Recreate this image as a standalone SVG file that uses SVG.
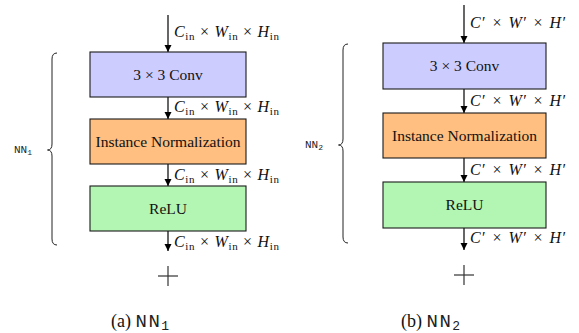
<svg xmlns="http://www.w3.org/2000/svg" width="579" height="333" viewBox="0 0 579 333">
<style>
.box{stroke:#1a1a1a;stroke-width:1.1}
.conv{fill:#ccccff}
.norm{fill:#ffbf80}
.relu{fill:#b3f5b3}
.bt{font-family:"Liberation Serif",serif;font-size:15.5px;fill:#111;text-anchor:middle}
.lbl{font-family:"Liberation Serif",serif;font-size:16px;fill:#111}
.it{font-style:italic}
.sub{font-size:11px}
.edge{stroke:#000;stroke-width:1.2;fill:none}
.brace{stroke:#222;stroke-width:1;fill:none}
.tt{font-family:"Liberation Mono",monospace;fill:#222}
.cap{font-family:"Liberation Serif",serif;font-size:18px;fill:#111}
.plus{stroke:#333;stroke-width:1.2}
</style>
<defs>
<marker id="ah" markerWidth="8" markerHeight="8" refX="7" refY="4" orient="auto" markerUnits="userSpaceOnUse">
<path d="M0,0.5 L7,4 L0,7.5 Z" fill="#000"/>
</marker>
</defs>

<g id="connectors">
<line class="edge" x1="168" y1="15" x2="168" y2="52" marker-end="url(#ah)"/>
<line class="edge" x1="168" y1="97" x2="168" y2="119" marker-end="url(#ah)"/>
<line class="edge" x1="168" y1="164" x2="168" y2="186" marker-end="url(#ah)"/>
<line class="edge" x1="168" y1="231" x2="168" y2="251" marker-end="url(#ah)"/>
<line class="edge" x1="464" y1="5" x2="464" y2="43" marker-end="url(#ah)"/>
<line class="edge" x1="464" y1="89" x2="464" y2="113" marker-end="url(#ah)"/>
<line class="edge" x1="464" y1="158" x2="464" y2="182" marker-end="url(#ah)"/>
<line class="edge" x1="464" y1="228" x2="464" y2="250" marker-end="url(#ah)"/>
</g>

<g id="labels-a">
<text class="lbl" x="174" y="37" textLength="105" lengthAdjust="spacing"><tspan class="it">C</tspan><tspan class="sub" dy="3">in</tspan><tspan dy="-3"> × </tspan><tspan class="it">W</tspan><tspan class="sub" dy="3">in</tspan><tspan dy="-3"> × </tspan><tspan class="it">H</tspan><tspan class="sub" dy="3">in</tspan></text>
<text class="lbl" x="174" y="112" textLength="105" lengthAdjust="spacing"><tspan class="it">C</tspan><tspan class="sub" dy="3">in</tspan><tspan dy="-3"> × </tspan><tspan class="it">W</tspan><tspan class="sub" dy="3">in</tspan><tspan dy="-3"> × </tspan><tspan class="it">H</tspan><tspan class="sub" dy="3">in</tspan></text>
<text class="lbl" x="174" y="180" textLength="105" lengthAdjust="spacing"><tspan class="it">C</tspan><tspan class="sub" dy="3">in</tspan><tspan dy="-3"> × </tspan><tspan class="it">W</tspan><tspan class="sub" dy="3">in</tspan><tspan dy="-3"> × </tspan><tspan class="it">H</tspan><tspan class="sub" dy="3">in</tspan></text>
<text class="lbl" x="174" y="247" textLength="105" lengthAdjust="spacing"><tspan class="it">C</tspan><tspan class="sub" dy="3">in</tspan><tspan dy="-3"> × </tspan><tspan class="it">W</tspan><tspan class="sub" dy="3">in</tspan><tspan dy="-3"> × </tspan><tspan class="it">H</tspan><tspan class="sub" dy="3">in</tspan></text>
</g>

<g id="labels-b">
<text class="lbl" x="470" y="28" font-size="17" textLength="96" lengthAdjust="spacing"><tspan class="it">C</tspan>′ × <tspan class="it">W</tspan>′ × <tspan class="it">H</tspan>′</text>
<text class="lbl" x="470" y="106" font-size="17" textLength="96" lengthAdjust="spacing"><tspan class="it">C</tspan>′ × <tspan class="it">W</tspan>′ × <tspan class="it">H</tspan>′</text>
<text class="lbl" x="470" y="175" font-size="17" textLength="96" lengthAdjust="spacing"><tspan class="it">C</tspan>′ × <tspan class="it">W</tspan>′ × <tspan class="it">H</tspan>′</text>
<text class="lbl" x="470" y="243" font-size="17" textLength="96" lengthAdjust="spacing"><tspan class="it">C</tspan>′ × <tspan class="it">W</tspan>′ × <tspan class="it">H</tspan>′</text>
</g>

<g id="a-conv"><rect class="box conv" x="90" y="52" width="156" height="45"/><text class="bt" x="168" y="80">3 × 3 Conv</text></g>
<g id="a-norm"><rect class="box norm" x="90" y="119" width="156" height="45"/><text class="bt" x="168" y="147">Instance Normalization</text></g>
<g id="a-relu"><rect class="box relu" x="90" y="186" width="156" height="45"/><text class="bt" x="168" y="214">ReLU</text></g>

<g id="b-conv"><rect class="box conv" x="383" y="43" width="163" height="46"/><text class="bt" x="464.5" y="71" font-size="16">3 × 3 Conv</text></g>
<g id="b-norm"><rect class="box norm" x="383" y="113" width="163" height="45"/><text class="bt" x="464.5" y="141" font-size="16">Instance Normalization</text></g>
<g id="b-relu"><rect class="box relu" x="383" y="182" width="163" height="46"/><text class="bt" x="464.5" y="210" font-size="16">ReLU</text></g>

<g id="a-brace">
<path class="brace" d="M57,53 Q52,53 52,59 L52,144 Q52,150 47.5,150 Q52,150 52,156 L52,239 Q52,245 57,245"/>
<text class="tt" x="14" y="153" font-size="11">NN<tspan font-size="8" dy="2">1</tspan></text>
</g>
<g id="b-brace">
<path class="brace" d="M348,44 Q343,44 343,50 L343,139 Q343,145 338.5,145 Q343,145 343,151 L343,237 Q343,243 348,243"/>
<text class="tt" x="305" y="148" font-size="11">NN<tspan font-size="8" dy="2">2</tspan></text>
</g>

<g id="a-plus"><line class="plus" x1="158" y1="276" x2="178" y2="276"/><line class="plus" x1="168" y1="266" x2="168" y2="286"/></g>
<g id="b-plus"><line class="plus" x1="454" y1="275" x2="474" y2="275"/><line class="plus" x1="464" y1="265" x2="464" y2="285"/></g>

<g id="captions">
<text class="cap" x="111" y="327">(a) <tspan class="tt" font-size="19" letter-spacing="1.5">NN</tspan><tspan class="tt" font-size="13" dy="3">1</tspan></text>
<text class="cap" x="401" y="327">(b) <tspan class="tt" font-size="19" letter-spacing="1.5">NN</tspan><tspan class="tt" font-size="13" dy="3">2</tspan></text>
</g>
</svg>
